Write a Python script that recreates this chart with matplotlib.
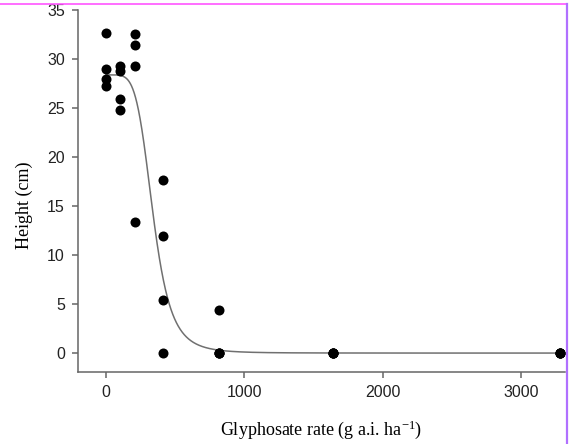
import numpy as np
import matplotlib
matplotlib.use('Agg')
import matplotlib.pyplot as plt
from matplotlib.lines import Line2D

plt.rcParams['mathtext.fontset'] = 'custom'
plt.rcParams['mathtext.rm'] = 'Liberation Serif'
plt.rcParams['mathtext.it'] = 'Liberation Serif:italic'

# observed plant heights per glyphosate rate
rate = [0, 0, 0, 0,
        103, 103, 103, 103,
        206, 206, 206, 206,
        410, 410, 410, 410,
        820, 820, 820, 820,
        1640, 1640, 1640, 1640,
        3280, 3280, 3280, 3280]
height = [32.7, 29.0, 28.0, 27.3,
          29.3, 28.8, 25.9, 24.8,
          32.6, 31.4, 29.3, 13.4,
          17.7, 12.0, 5.4, 0.0,
          4.4, 0.0, 0.0, 0.0,
          0.0, 0.0, 0.0, 0.0,
          0.0, 0.0, 0.0, 0.0]

# fitted log-logistic curve parameters (upper limit, slope, ED50)
fit_d = 28.4
fit_b = 5.2
fit_e = 340.0

x_ticks = [0, 1000, 2000, 3000]
y_ticks = [0, 5, 10, 15, 20, 25, 30, 35]

fig = plt.figure(figsize=(5.7, 4.44), dpi=100)
ax = fig.add_axes([0.137, 0.162, 0.854, 0.815])

xc = np.linspace(0, max(rate), 2000)
yc = fit_d / (1 + (xc / fit_e) ** fit_b)
ax.plot(xc, yc, color='#707070', lw=1.1, zorder=2)
ax.scatter(rate, height, s=52, color='black', zorder=3, linewidths=0)

ax.set_xlim(-202, 3318)
ax.set_ylim(-1.94, 35)
ax.set_xticks(x_ticks)
ax.set_yticks(y_ticks)

for s in ['top', 'right']:
    ax.spines[s].set_visible(False)
for s in ['left', 'bottom']:
    ax.spines[s].set_color('#666666')
    ax.spines[s].set_linewidth(1.1)
ax.tick_params(direction='out', length=4, width=1.1, color='#666666',
               labelsize=11.5, pad=5.5)
for lab in ax.get_xticklabels() + ax.get_yticklabels():
    lab.set_fontfamily('Liberation Sans')
    lab.set_color('#222222')

ax.set_xlabel('Glyphosate rate (g a.i. ha$^{\\mathrm{-1}}$)', fontfamily='Liberation Serif',
              fontsize=13, labelpad=13)
ax.set_ylabel('Height (cm)', fontfamily='Liberation Serif', fontsize=13)
ax.yaxis.set_label_coords(-0.092, 0.46)

# screenshot frame lines
fig.add_artist(Line2D([0, 567 / 570], [1 - 4 / 444, 1 - 4 / 444], color='#ff55ff', lw=1.2,
                      transform=fig.transFigure))
fig.add_artist(Line2D([567 / 570, 567 / 570], [0, 1 - 4 / 444], color='#b070ff', lw=1.6,
                      transform=fig.transFigure))

fig.savefig('out.png', dpi=100)
